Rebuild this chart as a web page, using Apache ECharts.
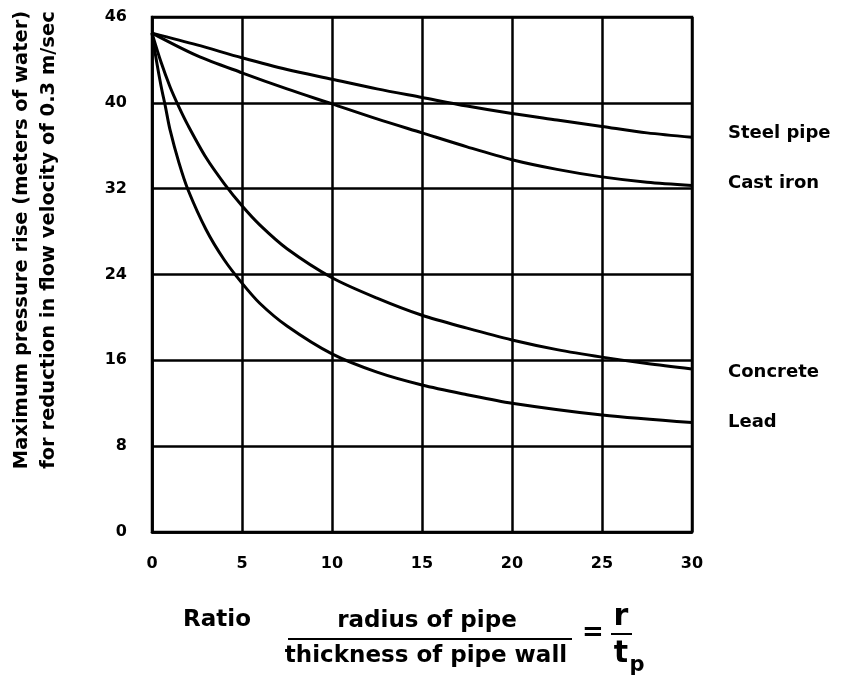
<!DOCTYPE html>
<html>
<head>
<meta charset="utf-8">
<script src="https://cdn.jsdelivr.net/npm/echarts@6/dist/echarts.min.js"></script>
<style>
html,body{margin:0;padding:0;background:#fff;}
#chart{width:849px;height:679px;}
</style>
</head>
<body>
<div id="chart"></div>
<script>
// ---- data (x = r/t_p ratio, y = max pressure rise, m of water) ----
const seriesNames = ['Steel pipe', 'Cast iron', 'Concrete', 'Lead'];
const steelPipe = [[0,46.5],[2.5,45.4],[5,44.2],[7.5,43.1],[10,42.2],[12.5,41.3],[15,40.5],[17.5,39.7],[20,39.0],[22.5,38.4],[25,37.8],[27.5,37.2],[30,36.8]];
const castIron = [[0,46.5],[2.5,44.4],[5,42.8],[7.5,41.3],[10,39.9],[12.5,38.5],[15,37.2],[17.5,35.9],[20,34.7],[22.5,33.8],[25,33.1],[27.5,32.6],[30,32.3]];
const concrete = [[0,46.5],[0.5,43.8],[1,41.5],[1.5,39.6],[2,37.9],[3,34.9],[4,32.5],[5,30.4],[6,28.6],[7.5,26.4],[10,23.7],[12.5,21.8],[15,20.2],[17.5,19.0],[20,17.9],[22.5,17.0],[25,16.3],[27.5,15.7],[30,15.2]];
const lead = [[0,46.5],[0.25,43.9],[0.5,41.6],[0.75,39.6],[1,37.5],[1.5,34.4],[2,31.9],[3,28.2],[4,25.4],[5,23.2],[6,21.3],[7.5,19.2],[10,16.6],[12.5,14.9],[15,13.7],[17.5,12.8],[20,12.0],[25,10.9],[30,10.2]];
const xTickValues = [0, 5, 10, 15, 20, 25, 30];
const yTickValues = [0, 8, 16, 24, 32, 40, 48];
const yTickLabels = ['0', '8', '16', '24', '32', '40', '46'];
const yTitleLines = ['Maximum pressure rise (meters of water)', 'for reduction in flow velocity of 0.3 m/sec'];
const xTitleWord = 'Ratio';
const xTitleNum = 'radius of pipe';
const xTitleDen = 'thickness of pipe wall';

const FONT = '"DejaVu Sans", sans-serif';
const chart = echarts.init(document.getElementById('chart'), null, {renderer: 'canvas'});
const allData = [steelPipe, castIron, concrete, lead];
const labelOffsets = [[0,-4],[0,-2],[0,3],[0,0]];

const option = {
  animation: false,
  backgroundColor: '#fff',
  grid: {left: 152, right: 157, top: 17, bottom: 147, show: true, borderColor: '#000', borderWidth: 2.5},
  xAxis: {
    type: 'value', min: xTickValues[0], max: xTickValues[xTickValues.length-1], interval: 5,
    axisLine: {show: true, lineStyle: {color: '#000', width: 2.5}},
    axisTick: {show: false},
    splitLine: {show: true, lineStyle: {color: '#000', width: 2.5}},
    axisLabel: {color: '#000', fontFamily: FONT, fontWeight: 'bold', fontSize: 16, margin: 24}
  },
  yAxis: {
    type: 'value', min: yTickValues[0], max: yTickValues[yTickValues.length-1], interval: 8,
    axisLine: {show: true, lineStyle: {color: '#000', width: 2.5}},
    axisTick: {show: false},
    splitLine: {show: true, lineStyle: {color: '#000', width: 2.5}},
    axisLabel: {color: '#000', fontFamily: FONT, fontWeight: 'bold', fontSize: 16, margin: 25,
      formatter: v => yTickLabels[yTickValues.indexOf(v)]}
  },
  series: allData.map((d, i) => ({
    name: seriesNames[i], type: 'line', data: d, smooth: 0.3,
    showSymbol: false, symbol: 'none',
    lineStyle: {color: '#000', width: 3},
    endLabel: {show: true, formatter: '{a}', color: '#000', fontFamily: FONT, fontWeight: 'bold', fontSize: 18, distance: 36, offset: labelOffsets[i]}
  })),
  graphic: [
    {type: 'text', x: 35, y: 240, rotation: Math.PI/2,
     style: {text: yTitleLines.join('\n'), fill: '#000', font: 'bold 19.5px ' + FONT, align: 'center', verticalAlign: 'middle', lineHeight: 27}},
    {type: 'text', x: 217, y: 620, style: {text: xTitleWord, fill: '#000', font: 'bold 23px ' + FONT, align: 'center', verticalAlign: 'middle'}},
    {type: 'text', x: 427, y: 621, style: {text: xTitleNum, fill: '#000', font: 'bold 23px ' + FONT, align: 'center', verticalAlign: 'middle'}},
    {type: 'line', shape: {x1: 288, y1: 639, x2: 572, y2: 639}, style: {stroke: '#000', lineWidth: 2}},
    {type: 'text', x: 426, y: 656, style: {text: xTitleDen, fill: '#000', font: 'bold 23px ' + FONT, align: 'center', verticalAlign: 'middle'}},
    {type: 'text', x: 593, y: 633, style: {text: '=', fill: '#000', font: 'bold 26px ' + FONT, align: 'center', verticalAlign: 'middle'}},
    {type: 'text', x: 621, y: 617, style: {text: 'r', fill: '#000', font: 'bold 30px ' + FONT, align: 'center', verticalAlign: 'middle'}},
    {type: 'line', shape: {x1: 611, y1: 634, x2: 632, y2: 634}, style: {stroke: '#000', lineWidth: 2}},
    {type: 'text', x: 621, y: 654, style: {text: 't', fill: '#000', font: 'bold 30px ' + FONT, align: 'center', verticalAlign: 'middle'}},
    {type: 'text', x: 637, y: 666, style: {text: 'p', fill: '#000', font: 'bold 21px ' + FONT, align: 'center', verticalAlign: 'middle'}}
  ]
};
chart.setOption(option);
</script>
</body>
</html>
